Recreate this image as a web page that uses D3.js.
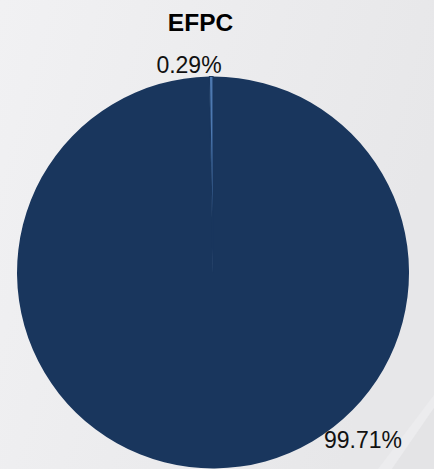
<!DOCTYPE html>
<html>
<head>
<meta charset="utf-8">
<script src="https://cdn.jsdelivr.net/npm/d3@7"></script>
<style>
  html, body { margin: 0; padding: 0; overflow: hidden; }
  svg { display: block; }
</style>
</head>
<body>
<svg id="chart" width="434" height="469"></svg>
<script>
// Share of EFPC
const title = "EFPC";
const categories = ["Main", "Other"];
const values = [99.71, 0.29];
const labels = ["99.71%", "0.29%"];
const colors = ["#19365d", "#4d79b1"];

const W = 434, H = 469;
const svg = d3.select("#chart");

// Background: soft light-gray gradient
const defs = svg.append("defs");
const grad = defs.append("linearGradient").attr("id", "bg")
  .attr("x1", "0").attr("y1", "0").attr("x2", "1").attr("y2", "0.3");
grad.append("stop").attr("offset", "0").attr("stop-color", "#f1f1f3");
grad.append("stop").attr("offset", "1").attr("stop-color", "#e7e7e9");
svg.append("rect").attr("width", W).attr("height", H).attr("fill", "url(#bg)");

// faint diagonal sheen in the lower-right corner
svg.append("path")
  .attr("d", `M${W} 395 L${W} 408 L392 ${H} L378 ${H} Z`)
  .attr("fill", "#ececee");
svg.append("path")
  .attr("d", `M${W} 408 L${W} ${H} L392 ${H} Z`)
  .attr("fill", "#e4e4e6");

const cx = 213, cy = 272.5, r = 196;

const pie = d3.pie().sort(null).value(d => d)(values);
const arc = d3.arc().innerRadius(0).outerRadius(r);

const g = svg.append("g").attr("transform", `translate(${cx},${cy})`);
g.selectAll("path.slice")
  .data(pie)
  .join("path")
  .attr("class", "slice")
  .attr("d", arc)
  .attr("fill", (d, i) => colors[i])
  .attr("stroke", colors[0])
  .attr("stroke-width", (d, i) => i === 1 ? 1.1 : 0);

// Percentage labels
const labelPos = [
  { x: 363, y: 448 },
  { x: 189, y: 72.5 }
];
svg.selectAll("text.lbl")
  .data(labels)
  .join("text")
  .attr("class", "lbl")
  .attr("x", (d, i) => labelPos[i].x)
  .attr("y", (d, i) => labelPos[i].y)
  .attr("text-anchor", "middle")
  .attr("font-family", "Liberation Sans, Arial, sans-serif")
  .attr("font-size", 23)
  .attr("fill", "#111")
  .text(d => d);

svg.append("text")
  .attr("x", 200.5)
  .attr("y", 31)
  .attr("text-anchor", "middle")
  .attr("font-family", "Liberation Sans, Arial, sans-serif")
  .attr("font-weight", "bold")
  .attr("font-size", 24.5)
  .attr("fill", "#000")
  .text(title);
</script>
</body>
</html>
